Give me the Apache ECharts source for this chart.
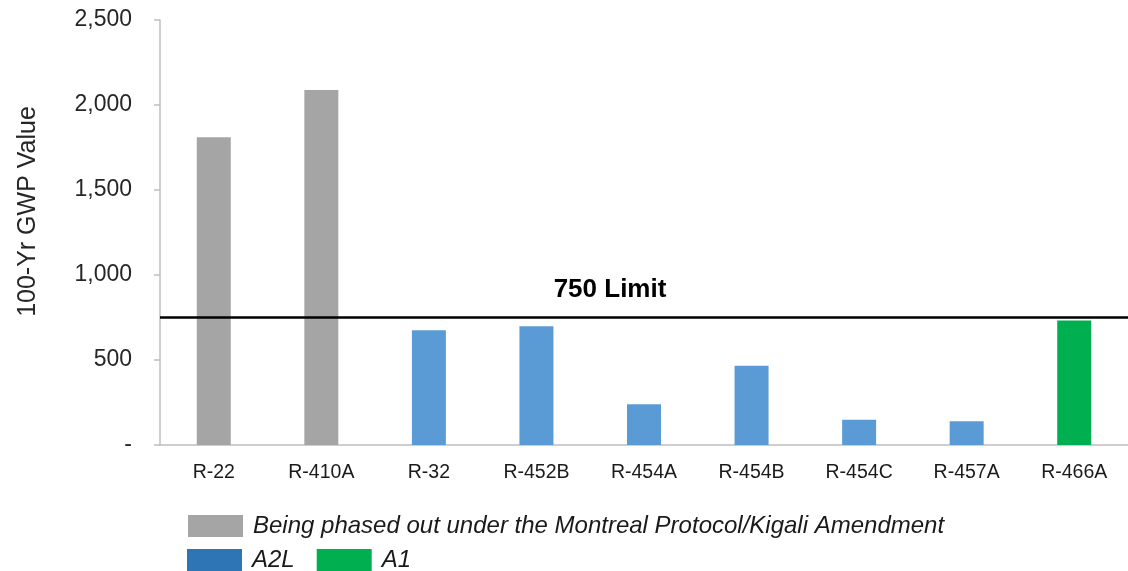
<!DOCTYPE html>
<html>
<head>
<meta charset="utf-8">
<script src="https://cdn.jsdelivr.net/npm/echarts@6/dist/echarts.min.js"></script>
<style>
  html, body { margin: 0; padding: 0; background: #fff; }
  #chart { width: 1128px; height: 571px; }
</style>
</head>
<body>
<div id="chart"></div>
<script>
// Refrigerants and their 100-year global warming potential
const categories = ['R-22', 'R-410A', 'R-32', 'R-452B', 'R-454A', 'R-454B', 'R-454C', 'R-457A', 'R-466A'];
const gwpValues  = [1810, 2088, 675, 698, 239, 466, 148, 139, 733];
// Group of each refrigerant: 'out' = being phased out, 'a2l' = A2L, 'a1' = A1
const groups     = ['out', 'out', 'a2l', 'a2l', 'a2l', 'a2l', 'a2l', 'a2l', 'a1'];
const yTicks     = [0, 500, 1000, 1500, 2000, 2500];
const limitValue = 750;

const groupNames = {
  out: 'Being phased out under the Montreal Protocol/Kigali Amendment',
  a2l: 'A2L',
  a1: 'A1'
};
const barColors    = { out: '#A5A5A5', a2l: '#5B9BD5', a1: '#00B050' };
const legendColors = { out: '#A5A5A5', a2l: '#2E75B6', a1: '#00B050' };

const font = '"Liberation Sans", Arial, sans-serif';

function seriesFor(key) {
  return gwpValues.map((v, i) => (groups[i] === key ? v : null));
}

const chart = echarts.init(document.getElementById('chart'), null, { renderer: 'canvas' });

const series = ['out', 'a2l', 'a1'].map((key) => ({
  name: groupNames[key],
  type: 'bar',
  stack: 'gwp',
  barWidth: 34,
  data: seriesFor(key),
  itemStyle: { color: barColors[key] },
  emphasis: { disabled: true }
}));

series[0].markLine = {
  silent: true,
  symbol: 'none',
  data: [{ yAxis: limitValue }],
  lineStyle: { color: '#000', width: 2.5, type: 'solid' },
  label: {
    show: true,
    formatter: limitValue + ' Limit',
    position: 'insideMiddleTop',
    offset: [-34, -10],
    color: '#000',
    fontFamily: font,
    fontSize: 26,
    fontWeight: 'bold'
  }
};

const legendText = {
  color: '#1a1a1a',
  fontFamily: font,
  fontSize: 24,
  fontStyle: 'italic',
  padding: [0, 0, 0, 5]
};

chart.setOption({
  animation: false,
  backgroundColor: '#fff',
  grid: { left: 160, top: 20, width: 972, height: 425, containLabel: false },
  xAxis: {
    type: 'category',
    data: categories,
    axisTick: { show: false },
    axisLine: { lineStyle: { color: '#BFBFBF', width: 1.5 } },
    axisLabel: { color: '#1a1a1a', fontFamily: font, fontSize: 19.5, margin: 18 }
  },
  yAxis: {
    type: 'value',
    min: yTicks[0],
    max: yTicks[yTicks.length - 1],
    interval: 500,
    name: '100-Yr GWP Value',
    nameLocation: 'middle',
    nameGap: 119,
    nameTextStyle: {
      color: '#262626',
      fontFamily: font,
      fontSize: 25,
      padding: [0, 0, 0, 42]
    },
    splitLine: { show: false },
    axisLine: { show: true, lineStyle: { color: '#BFBFBF', width: 1.5 } },
    axisTick: { show: true, length: 6, lineStyle: { color: '#BFBFBF', width: 1.5 } },
    axisLabel: {
      color: '#262626',
      fontFamily: font,
      fontSize: 23,
      margin: 28,
      formatter: (v) => (v === 0 ? '-' : v.toLocaleString('en-US'))
    }
  },
  legend: [
    {
      left: 183, top: 509,
      itemWidth: 55, itemHeight: 22,
      icon: 'rect',
      selectedMode: false,
      textStyle: legendText,
      data: [{ name: groupNames.out, itemStyle: { color: legendColors.out } }]
    },
    {
      left: 182, top: 543,
      itemWidth: 55, itemHeight: 22,
      itemGap: 22,
      icon: 'rect',
      selectedMode: false,
      textStyle: legendText,
      data: [
        { name: groupNames.a2l, itemStyle: { color: legendColors.a2l } },
        { name: groupNames.a1, itemStyle: { color: legendColors.a1 } }
      ]
    }
  ],
  series: series
});
</script>
</body>
</html>
